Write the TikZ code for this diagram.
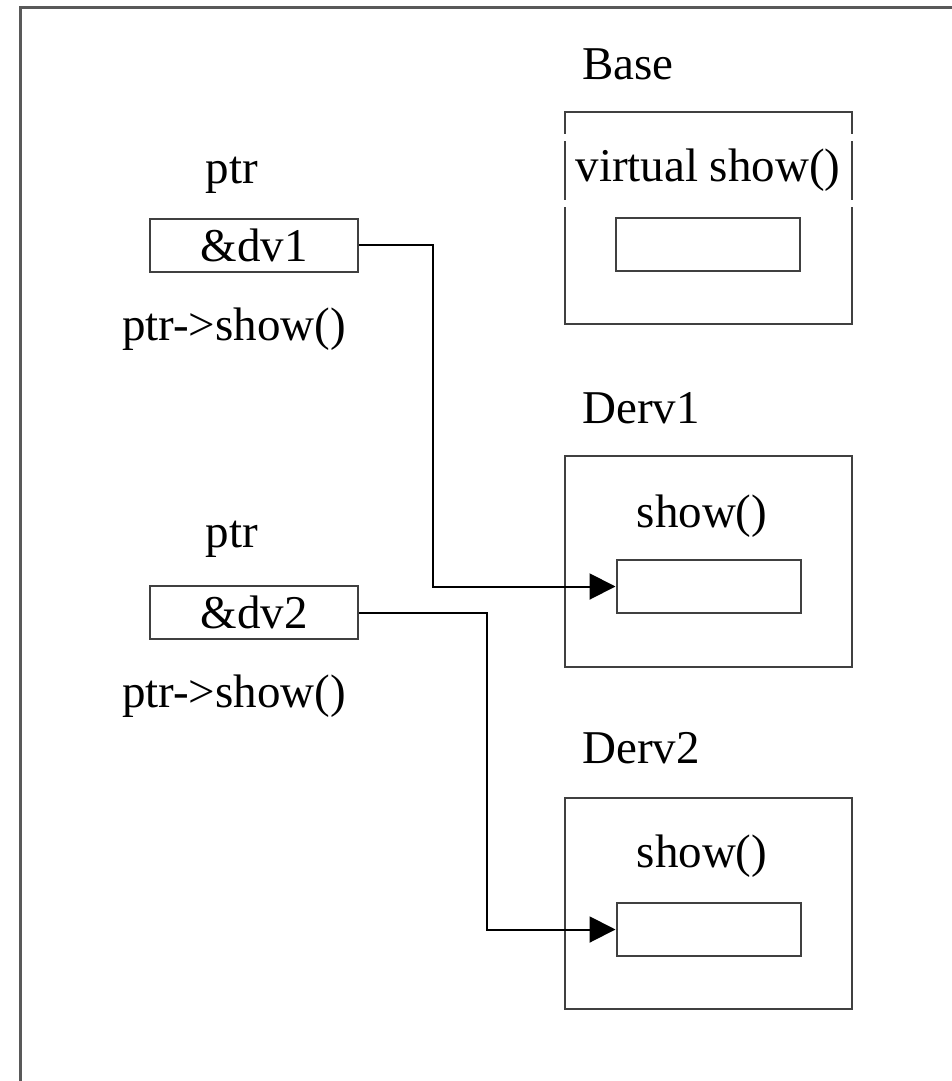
\documentclass[tikz,border=0pt]{standalone}
\usepackage{fontspec}
\setmainfont{Liberation Serif}
\usetikzlibrary{positioning,arrows.meta}

\begin{document}
\begin{tikzpicture}[x=0.5pt, y=-0.5pt, font=\fontsize{23.5}{28}\selectfont,
  box/.style={draw=black!75, line width=1pt, inner sep=0pt},
  slot/.style={box, minimum width=92pt, minimum height=26.5pt},
  obj/.style={box, minimum width=143.5pt, minimum height=105.5pt},
  ptrbox/.style={box, minimum width=104pt, minimum height=26.5pt},
  lbl/.style={anchor=base, inner sep=0pt},
  cls/.style={anchor=base west, inner sep=0pt},
  link/.style={->, line width=1pt},
  >={Triangle[length=13pt,width=13pt]}]
  \useasboundingbox (0,0) rectangle (952,1081);
  \draw[black!65, line width=1.5pt] (952,8) -| (20,1081);
  % pointers
  \node[lbl] (ptrA) at (232,184) {ptr};
  \node[ptrbox] (dv1) at (254,245) {\&dv1};
  \node[lbl] (callA) at (234,340) {ptr->show()};
  \node[lbl] (ptrB) at (232,547) {ptr};
  \node[ptrbox] (dv2) at (254,612.5) {\&dv2};
  \node[lbl] (callB) at (234,707) {ptr->show()};
  % objects
  \node[cls] (base) at (582,80) {Base};
  \node[obj] (baseobj) at (708,218) {};
  \node[draw=white, line width=3.5pt, inner sep=0pt, minimum width=155pt,
        minimum height=32.5pt] (vshow) at (708,170.5) {virtual show()};
  \node[slot] (slot0) at (708,244.5) {};
  \node[cls] (derv1) at (582,423) {Derv1};
  \node[obj] (dervobjA) at (708.5,561) {};
  \node[lbl] (showA) at (702,527) {show()};
  \node[slot] (slotA) at (708.5,586.5) {};
  \node[cls] (derv2) at (582,763) {Derv2};
  \node[obj] (dervobjB) at (708.5,903.5) {};
  \node[lbl] (showB) at (702,867) {show()};
  \node[slot] (slotB) at (708.5,929.5) {};
  % links
  \coordinate (bendA) at (433,0);
  \coordinate (bendB) at (487,0);
  \draw[link] (dv1.east) -- (bendA |- dv1.east) |- (slotA.west);
  \draw[link] (dv2.east) -- (bendB |- dv2.east) |- (slotB.west);
\end{tikzpicture}
\end{document}
